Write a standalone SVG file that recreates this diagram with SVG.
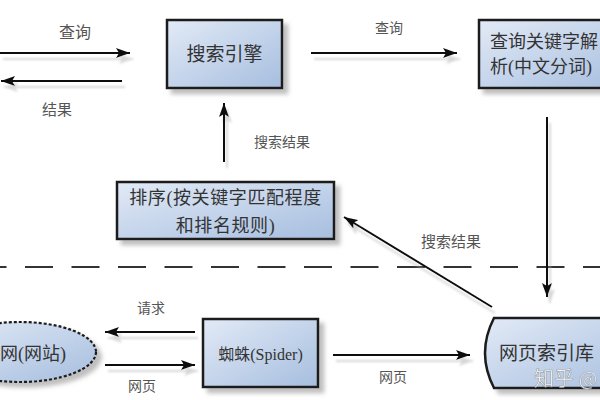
<svg xmlns="http://www.w3.org/2000/svg" width="600" height="400" viewBox="0 0 600 400">
<defs>
<linearGradient id="g" x1="0" y1="0" x2="1" y2="1">
<stop offset="0" stop-color="#e2eaf6"/>
<stop offset="1" stop-color="#a6bedf"/>
</linearGradient>
<filter id="sh" x="-20%" y="-20%" width="150%" height="160%">
<feDropShadow dx="5" dy="5" stdDeviation="2" flood-color="#8a8a8a" flood-opacity="0.55"/>
</filter>
<filter id="lsh" x="-10%" y="-50%" width="120%" height="200%">
<feDropShadow dx="3" dy="6" stdDeviation="1" flood-color="#b0b0b0" flood-opacity="0.5"/>
</filter>
<marker id="ah" viewBox="0 0 14 10" refX="14" refY="5" markerWidth="14" markerHeight="10" markerUnits="userSpaceOnUse" orient="auto">
<path d="M0,0 L14,5 L0,10 L3,5 z" fill="#111"/>
</marker>
</defs>
<style>
.box{fill:url(#g);stroke:#1a1a1a;stroke-width:2.5;filter:url(#sh)}
.t{font-family:"Liberation Serif","Noto Sans CJK SC",serif;fill:#333}
.lbl{font-family:"Liberation Serif","Noto Sans CJK SC",serif;fill:#555;text-anchor:middle}
.c{stroke:#111;stroke-width:2;fill:none;marker-end:url(#ah)}
</style>
<rect width="600" height="400" fill="#ffffff"/>

<line x1="-21.5" y1="267" x2="600" y2="267" stroke="#333" stroke-width="2" stroke-dasharray="28 18.5"/>

<g id="search-engine">
<rect class="box" x="167" y="20" width="115" height="68"/>
<text class="t" x="224.5" y="61" font-size="19" text-anchor="middle">搜索引擎</text>
</g>

<g id="query-parse">
<rect class="box" x="479" y="20" width="150" height="68"/>
<text class="t" x="490" y="48" font-size="18">查询关键字解</text>
<text class="t" x="490" y="73" font-size="18">析(中文分词)</text>
</g>

<g id="sort">
<rect class="box" x="117" y="182" width="217" height="57"/>
<text class="t" x="225.5" y="204" font-size="18" letter-spacing="0.6" text-anchor="middle">排序(按关键字匹配程度</text>
<text class="t" x="225.5" y="232" font-size="18" letter-spacing="0.6" text-anchor="middle">和排名规则)</text>
</g>

<g id="spider">
<rect class="box" x="203" y="319" width="115" height="68"/>
<text class="t" x="260.5" y="360" font-size="16" text-anchor="middle">蜘蛛(Spider)</text>
</g>

<g id="index">
<path class="box" d="M494,318 L640,318 L640,388 L494,388 Q476,353 494,318 Z"/>
<text class="t" x="499" y="360" font-size="19">网页索引库</text>
</g>

<g id="internet">
<ellipse cx="20" cy="352" rx="76" ry="30" fill="url(#g)" stroke="#1a1a1a" stroke-width="2.2" stroke-dasharray="3 2" filter="url(#sh)"/>
<text class="t" x="0" y="360" font-size="18">网(网站)</text>
</g>

<g id="connectors" filter="url(#lsh)">
<line class="c" x1="0" y1="53" x2="130" y2="53"/>
<line class="c" x1="122" y1="81" x2="1" y2="81"/>
<line class="c" x1="311" y1="53" x2="457" y2="53"/>
<line class="c" x1="224" y1="162" x2="224" y2="103"/>
<line class="c" x1="547" y1="117" x2="547" y2="297"/>
<line class="c" x1="492" y1="307" x2="344" y2="217"/>
<line class="c" x1="195" y1="332" x2="105" y2="332"/>
<line class="c" x1="105" y1="365" x2="195" y2="365"/>
<line class="c" x1="333" y1="355" x2="470" y2="355"/>
</g>

<g id="labels">
<text class="lbl" x="75" y="38" font-size="16">查询</text>
<text class="lbl" x="57" y="115" font-size="15">结果</text>
<text class="lbl" x="389" y="33" font-size="14">查询</text>
<text class="lbl" x="282" y="147" font-size="14">搜索结果</text>
<text class="lbl" x="451" y="247" font-size="15">搜索结果</text>
<text class="lbl" x="151" y="313" font-size="14">请求</text>
<text class="lbl" x="142" y="391" font-size="14">网页</text>
<text class="lbl" x="393" y="382" font-size="14">网页</text>
</g>

<text x="534" y="386" font-family="'Noto Sans CJK SC',sans-serif" font-size="20" fill="#ffffff" stroke="#9a9a9a" stroke-width="0.6" opacity="0.9">知乎 @</text>
</svg>
